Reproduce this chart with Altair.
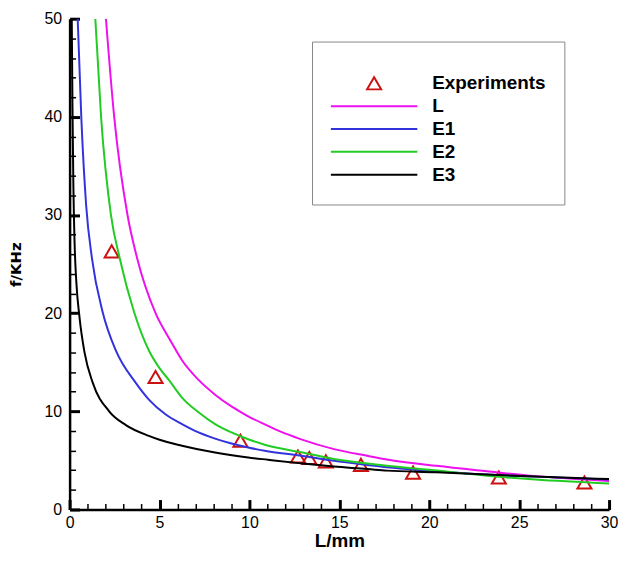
import altair as alt
import pandas as pd

# ---- data ----
series_names = ["Experiments", "L", "E1", "E2", "E3"]
series_colors = ["#cc1111", "#ee11ee", "#3333dd", "#22cc22", "#000000"]

exp_x = [2.34, 4.78, 9.5, 12.7, 13.33, 14.25, 16.2, 19.1, 23.87, 28.63]
exp_f = [26.3, 13.5, 7.0, 5.4, 5.25, 4.9, 4.54, 3.75, 3.26, 2.75]

L_x = [2.02, 2.48, 3.22, 3.77, 4.78, 5.61, 6.25, 7.17, 8.09, 9.0, 9.93, 10.85,
       11.77, 12.8, 14.7, 16.55, 17.65, 20.4, 23.2, 25.9, 30.0]
L_f = [50, 40, 30, 25.5, 20, 17.2, 15.2, 13.2, 11.7, 10.5, 9.5, 8.67,
       7.9, 7.2, 6.15, 5.47, 5.1, 4.45, 3.9, 3.4, 2.9]

E1_x = [0.45, 0.65, 0.92, 1.25, 1.84, 2.57, 3.68, 4.41, 5.33, 6.25, 7.17, 8.09,
        9.0, 9.93, 10.85, 12.8, 14.7, 16.55, 17.65, 20.0, 23.2, 25.9, 30.0]
E1_f = [50, 40, 31, 25.5, 20.1, 16.2, 12.9, 11.2, 9.7, 8.7, 7.85, 7.22,
        6.72, 6.32, 5.98, 5.5, 4.97, 4.54, 4.3, 3.95, 3.56, 3.35, 3.05]

E2_x = [1.43, 1.75, 2.3, 2.8, 3.59, 4.41, 5.0, 5.52, 6.25, 7.17, 8.09, 9.0,
        9.93, 10.85, 12.8, 14.7, 16.55, 17.65, 20.0, 23.2, 25.9, 30.0]
E2_f = [50, 40, 30, 25.5, 20.1, 16.2, 14.4, 13.2, 11.4, 9.9, 8.7, 7.85,
        7.16, 6.6, 5.85, 5.15, 4.68, 4.45, 4.05, 3.45, 3.05, 2.65]

E3_x = [0.12, 0.16, 0.21, 0.28, 0.37, 0.55, 0.83, 1.29, 2.2, 3.13, 4.41, 5.0,
        6.25, 8.09, 9.93, 11.03, 12.87, 14.71, 16.55, 17.65, 20.4, 23.17, 25.9, 30.0]
E3_f = [50, 41, 33, 27, 23.3, 19.6, 16.0, 12.9, 10.0, 8.6, 7.5, 7.1,
        6.5, 5.8, 5.3, 5.07, 4.7, 4.37, 4.13, 3.96, 3.8, 3.56, 3.36, 3.1]

x_major = [0, 5, 10, 15, 20, 25, 30]
x_minor = [v for v in range(0, 31) if v % 5 != 0]
y_major = [0, 10, 20, 30, 40, 50]
y_minor = [v for v in range(0, 51, 2) if v % 10 != 0]

# ---- tables ----
exp_df = pd.DataFrame({"L": exp_x, "f": exp_f, "series": "Experiments"})


def curve_table(items):
    rows = []
    for name, xs, fs in items:
        for i, (a, b) in enumerate(zip(xs, fs)):
            rows.append({"L": a, "f": b, "series": name, "order": i})
    return pd.DataFrame(rows)


curves_a = curve_table([("L", L_x, L_f), ("E1", E1_x, E1_f)])
curves_b = curve_table([("E2", E2_x, E2_f), ("E3", E3_x, E3_f)])

FONT = "Liberation Sans"
W, H = 543, 494

x_scale = alt.Scale(domain=[0, 30], nice=False, zero=False)
y_scale = alt.Scale(domain=[0, 50], nice=False, zero=False)

x_axis = alt.Axis(
    orient="bottom", values=x_major, ticks=False,
    domainColor="black", domainWidth=2.5, grid=False,
    labelFont=FONT, labelFontSize=16, labelColor="black", labelPadding=5,
    labelOverlap=False, labelFlush=False,
    title="L/mm", titleFont=FONT, titleFontSize=19, titleFontWeight="bold",
    titleColor="black", titleY=37, titleBaseline="alphabetic",
)
y_axis = alt.Axis(
    orient="left", values=y_major, ticks=False,
    domainColor="black", domainWidth=2.5, grid=False,
    labelFont=FONT, labelFontSize=16, labelColor="black", labelPadding=8,
    labelOverlap=False, labelFlush=False,
    title="f/KHz", titleFont="DejaVu Sans", titleFontSize=15, titleFontWeight="bold",
    titleColor="black", titleX=-49, titleBaseline="alphabetic",
)


def tick_axis(orient, offset, values, size, width):
    return alt.Axis(
        orient=orient, offset=offset, values=values, ticks=True,
        tickSize=size, tickWidth=width, tickColor="black",
        domain=False, labels=False, grid=False, title=None,
    )


x_ticks_major = tick_axis("top", -H, x_major, 10, 3)
y_ticks_major = tick_axis("right", -W, y_major, 10, 3)
x_ticks_minor = tick_axis("top", -H, x_minor, 6, 1.5)
y_ticks_minor = tick_axis("right", -W, y_minor, 6, 1.5)

leg = alt.Legend(
    title=" ", titleFontSize=8, titlePadding=4.5,
    orient="none", legendX=244, legendY=23, padding=18,
    strokeColor="#888888", fillColor="white",
    clipHeight=23, rowPadding=0, symbolStrokeWidth=2,
    labelFont=FONT, labelFontSize=19, labelFontWeight="bold", labelColor="black",
    labelOffset=14,
)

shape_range = ["triangle-up", "stroke", "stroke", "stroke", "stroke"]
size_range = [200, 7569, 7569, 7569, 7569]
stroke_scale = alt.Scale(domain=series_names, range=series_colors)

points = alt.Chart(exp_df).mark_point(filled=False, strokeWidth=2, opacity=1).encode(
    x=alt.X("L:Q", scale=x_scale, axis=x_axis),
    y=alt.Y("f:Q", scale=y_scale, axis=y_axis),
    color=alt.Color("series:N", scale=alt.Scale(domain=series_names, range=series_colors), legend=leg),
    shape=alt.Shape("series:N", scale=alt.Scale(domain=series_names, range=shape_range), legend=leg),
    size=alt.Size("series:N", scale=alt.Scale(type="ordinal", domain=series_names, range=size_range), legend=leg),
)

lines_a = alt.Chart(curves_a).mark_line(strokeWidth=2, interpolate="monotone", clip=True).encode(
    x=alt.X("L:Q", scale=x_scale, axis=x_ticks_major),
    y=alt.Y("f:Q", scale=y_scale, axis=y_ticks_major),
    stroke=alt.Stroke("series:N", scale=stroke_scale, legend=None),
    detail="series:N",
    order="order:Q",
)

lines_b = alt.Chart(curves_b).mark_line(strokeWidth=2, interpolate="monotone", clip=True).encode(
    x=alt.X("L:Q", scale=x_scale, axis=x_ticks_minor),
    y=alt.Y("f:Q", scale=y_scale, axis=y_ticks_minor),
    stroke=alt.Stroke("series:N", scale=stroke_scale, legend=None),
    detail="series:N",
    order="order:Q",
)

chart = alt.layer(points, lines_a, lines_b).resolve_axis(x="independent", y="independent").properties(
    width=W, height=H,
    autosize=alt.AutoSizeParams(type="none"),
    padding={"left": 62, "top": 9, "right": 10, "bottom": 42},
    background="white",
).configure_view(strokeOpacity=0)

chart.save("out.html", embed_options={"renderer": "svg", "actions": False})
